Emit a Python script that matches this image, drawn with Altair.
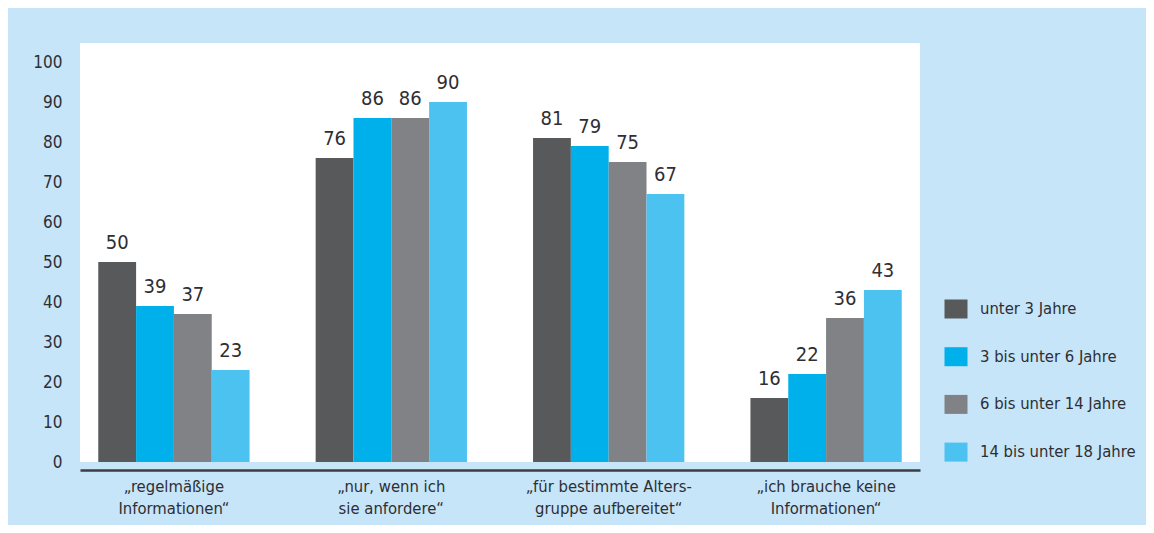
import altair as alt
import pandas as pd

categories = ["„regelmäßige|Informationen“", "„nur, wenn ich|sie anfordere“",
              "„für bestimmte Alters-|gruppe aufbereitet“", "„ich brauche keine|Informationen“"]
series = ["unter 3 Jahre", "3 bis unter 6 Jahre", "6 bis unter 14 Jahre", "14 bis unter 18 Jahre"]
v_unter3 = [50, 76, 81, 16]
v_3bis6 = [39, 86, 79, 22]
v_6bis14 = [37, 86, 75, 36]
v_14bis18 = [23, 90, 67, 43]
colors = ["#58595b", "#00b0ea", "#808285", "#4cc2f1"]
y_ticks = [0, 10, 20, 30, 40, 50, 60, 70, 80, 90, 100]

rows = []
for s, vals in zip(series, [v_unter3, v_3bis6, v_6bis14, v_14bis18]):
    for c, v in zip(categories, vals):
        rows.append({"Kategorie": c, "Gruppe": s, "Wert": v})
df = pd.DataFrame(rows)

FONT = "Liberation Sans Narrow, DejaVu Sans Condensed, Roboto, sans-serif"
TXT = "#2e2e34"

x = alt.X("Kategorie:N", sort=categories, title=None,
          scale=alt.Scale(paddingInner=0.304, paddingOuter=0.084),
          axis=alt.Axis(labelAngle=0, labelExpr="split(datum.label, '|')",
                        labelFontSize=16.5, labelLineHeight=22, labelColor=TXT,
                        labelFont=FONT, labelPadding=8, labelBaseline="top",
                        labelLimit=0,
                        ticks=False, domain=True, domainColor="#3c3c44",
                        domainWidth=2.5, offset=8, grid=False))
xo = alt.XOffset("Gruppe:N", sort=series,
                 scale=alt.Scale(paddingInner=0, paddingOuter=0))
y = alt.Y("Wert:Q", title=None,
          scale=alt.Scale(domain=[0, 104.75], nice=False, zero=True),
          axis=alt.Axis(values=y_ticks, labelFontSize=17, labelColor=TXT,
                        labelFont=FONT, labelPadding=18, ticks=False,
                        domain=False, grid=False))
color = alt.Color("Gruppe:N", sort=series,
                  scale=alt.Scale(domain=series, range=colors),
                  legend=alt.Legend(title=None, orient="none", legendX=866, legendY=256,
                                    direction="vertical", labelFontSize=16.5,
                                    labelFont=FONT, labelColor=TXT, labelLimit=0,
                                    symbolType="M-1.15,-0.95L1.15,-0.95L1.15,0.95L-1.15,0.95Z",
                                    symbolSize=400, symbolStrokeWidth=0,
                                    symbolOpacity=1, rowPadding=27.7,
                                    labelOffset=14, padding=0))

bars = alt.Chart(df).mark_bar(stroke=None, strokeWidth=0).encode(
    x=x, xOffset=xo, y=y, color=color)

labels = alt.Chart(df).mark_text(
    baseline="alphabetic", dy=-13, fontSize=20, font=FONT, color=TXT
).encode(x=x, xOffset=xo, y=y, text=alt.Text("Wert:Q"))

chart = alt.layer(bars, labels).properties(
    width=840, height=419,
    autosize=alt.AutoSizeParams(type="none"),
    padding={"left": 72, "top": 35, "right": 226, "bottom": 63},
    background="#c6e5f8",
).configure_view(fill="white", stroke=None)

chart.save("out.html", embed_options={"renderer": "svg", "actions": False})
